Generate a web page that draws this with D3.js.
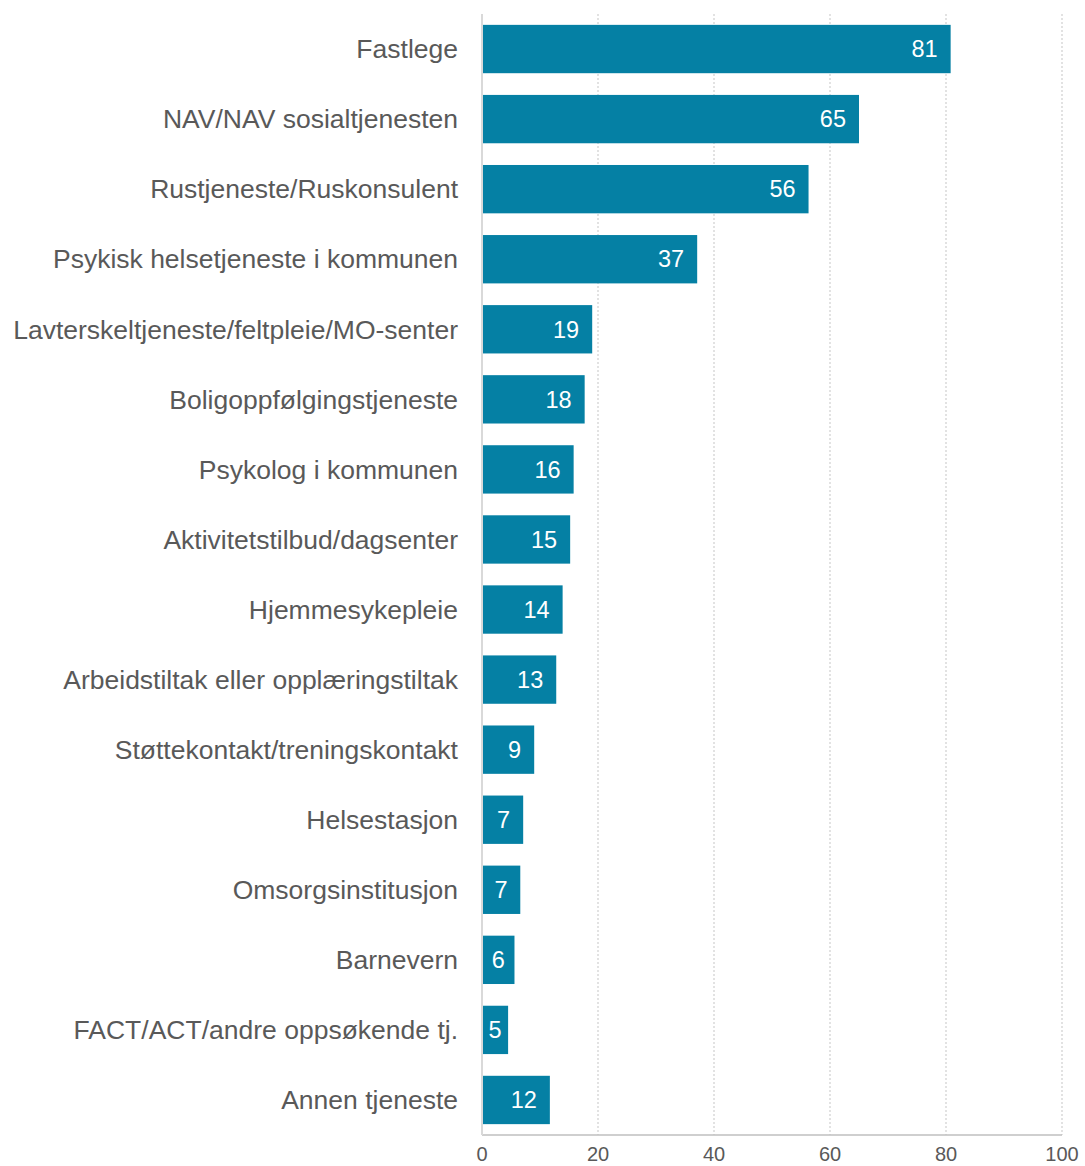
<!DOCTYPE html>
<html>
<head>
<meta charset="utf-8">
<script src="https://cdn.jsdelivr.net/npm/d3@7"></script>
<style>
  body { margin: 0; background: #fff; }
  text { font-family: "Liberation Sans", Arial, sans-serif; }
</style>
</head>
<body>
<svg id="chart"></svg>
<script>
var categories = [
  "Fastlege",
  "NAV/NAV sosialtjenesten",
  "Rustjeneste/Ruskonsulent",
  "Psykisk helsetjeneste i kommunen",
  "Lavterskeltjeneste/feltpleie/MO-senter",
  "Boligoppfølgingstjeneste",
  "Psykolog i kommunen",
  "Aktivitetstilbud/dagsenter",
  "Hjemmesykepleie",
  "Arbeidstiltak eller opplæringstiltak",
  "Støttekontakt/treningskontakt",
  "Helsestasjon",
  "Omsorgsinstitusjon",
  "Barnevern",
  "FACT/ACT/andre oppsøkende tj.",
  "Annen tjeneste"
];
var values = [80.8, 65.0, 56.3, 37.1, 19.0, 17.7, 15.8, 15.2, 13.9, 12.8, 9.0, 7.1, 6.6, 5.6, 4.5, 11.7];
var xTicks = [0, 20, 40, 60, 80, 100];

var W = 1085, H = 1166;
var margin = {top: 14, right: 23, bottom: 31, left: 482};

var svg = d3.select("#chart").attr("width", W).attr("height", H);

var x = d3.scaleLinear().domain([0, 100]).range([margin.left, W - margin.right]);
var y = d3.scaleBand().domain(categories)
  .range([margin.top, H - margin.bottom]).paddingInner(0.31).paddingOuter(0.155);

// dotted gridlines
svg.append("g").selectAll("line").data(xTicks.slice(1)).join("line")
  .attr("x1", d => x(d)).attr("x2", d => x(d))
  .attr("y1", margin.top).attr("y2", H - margin.bottom)
  .attr("stroke", "#d9d9d9").attr("stroke-width", 1.5).attr("stroke-dasharray", "2,2");

// bottom axis line
svg.append("line")
  .attr("x1", x(0)).attr("x2", x(100))
  .attr("y1", H - margin.bottom).attr("y2", H - margin.bottom)
  .attr("stroke", "#bfbfbf").attr("stroke-width", 1.5);

// bars
svg.append("g").selectAll("rect").data(values).join("rect")
  .attr("x", x(0) + 1)
  .attr("y", (d, i) => y(categories[i]))
  .attr("width", d => x(d) - x(0) - 1)
  .attr("height", y.bandwidth())
  .attr("fill", "#0580a4");

// left axis line
svg.append("line")
  .attr("x1", x(0)).attr("x2", x(0))
  .attr("y1", margin.top).attr("y2", H - margin.bottom)
  .attr("stroke", "#d9d9d9").attr("stroke-width", 2);

// category labels
svg.append("g").selectAll("text").data(categories).join("text")
  .attr("x", x(0) - 24)
  .attr("y", d => y(d) + y.bandwidth() / 2)
  .attr("dy", "0.35em")
  .attr("text-anchor", "end")
  .attr("font-size", 26.5)
  .attr("fill", "#595959")
  .text(d => d);

// value labels (inside end, kept inside the bar)
var fmt = d3.format(".0f");
svg.append("g").selectAll("text").data(values).join("text")
  .attr("y", (d, i) => y(categories[i]) + y.bandwidth() / 2)
  .attr("dy", "0.35em")
  .attr("font-size", 23.5)
  .attr("fill", "#fff")
  .text(d => fmt(d))
  .each(function(d) {
    var w = this.getComputedTextLength();
    var endPos = x(d) - 13 - w;
    var centerPos = (x(0) + x(d)) / 2 - w / 2;
    d3.select(this).attr("x", Math.max(endPos, centerPos));
  });

// x tick labels
svg.append("g").selectAll("text").data(xTicks).join("text")
  .attr("x", d => x(d))
  .attr("y", H - 5)
  .attr("text-anchor", "middle")
  .attr("font-size", 20)
  .attr("fill", "#595959")
  .text(d => d);
</script>
</body>
</html>
